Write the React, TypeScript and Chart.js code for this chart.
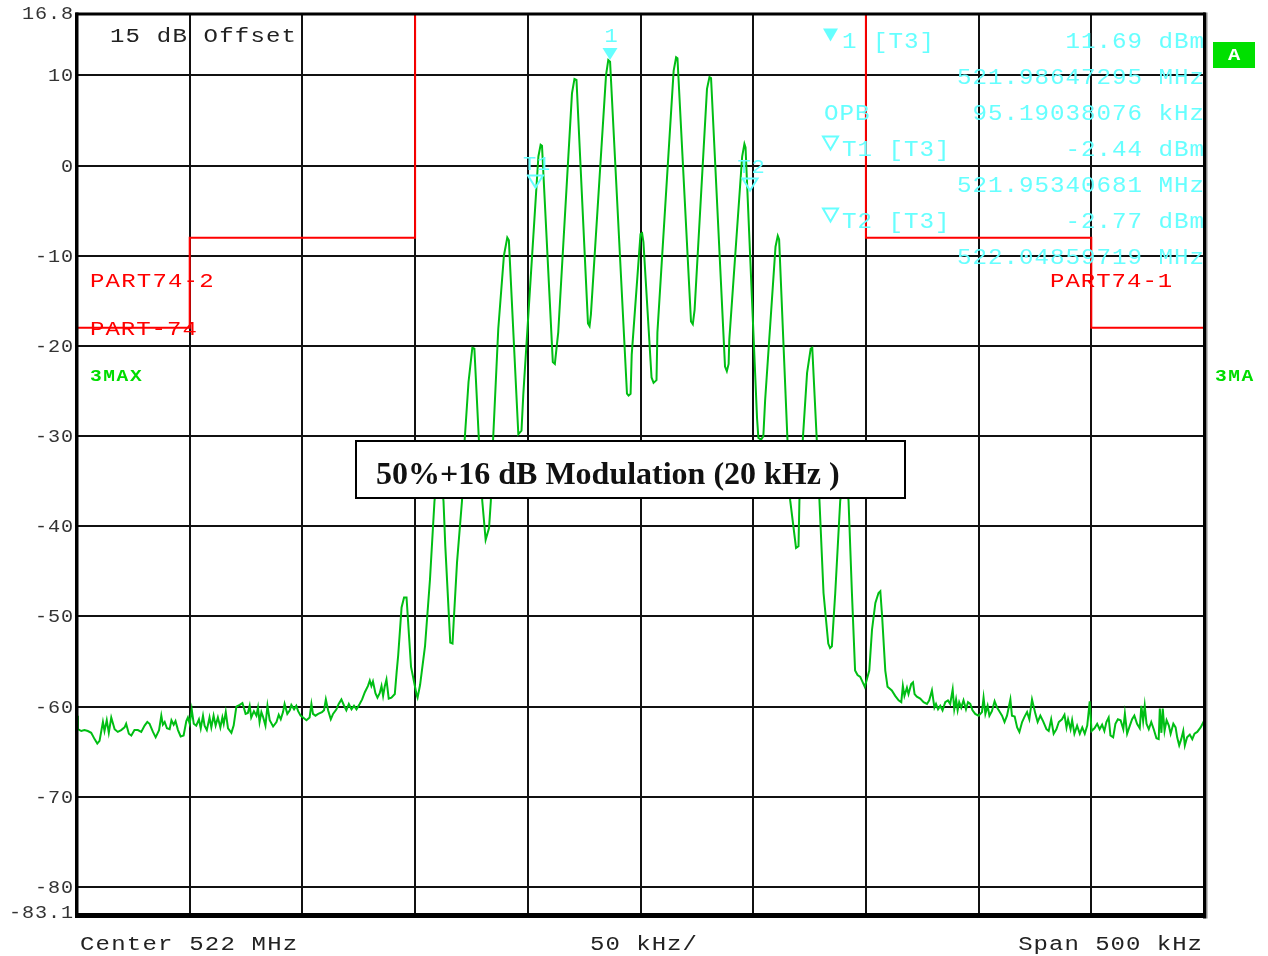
import React, { useEffect, useRef } from 'react';
import { Chart, registerables } from 'chart.js';

Chart.register(...registerables);

// Trace (max hold): frequency offset from 522 MHz in kHz, level in dBm
const traceFreqKHz = [
  -250.0, -249.6, -248.1, -246.7, -245.2, -243.7, -242.2, -241.0, -240.0, -238.5, -237.8, -236.8, -235.9, -234.8, -233.3, -231.9,
  -230.4, -228.9, -228.2, -227.0, -225.9, -224.5, -223.0, -221.5, -220.0, -218.8, -217.8, -216.3, -215.1, -213.6, -212.6, -211.9,
  -211.1, -210.1, -208.9, -208.1, -207.1, -206.3, -205.2, -204.0, -202.7, -201.5, -200.8, -200.0, -199.1, -198.2, -197.1, -195.9,
  -195.1, -194.1, -193.4, -192.4, -191.2, -190.4, -189.4, -188.5, -187.5, -186.4, -185.5, -184.9, -184.0, -183.0, -181.5, -180.5,
  -179.3, -177.8, -176.6, -176.1, -175.2, -174.2, -173.4, -172.7, -171.5, -170.4, -169.7, -169.0, -168.2, -167.5, -166.4, -165.5,
  -164.5, -163.0, -161.5, -160.5, -159.6, -158.6, -157.9, -156.7, -155.6, -154.9, -153.7, -152.7, -151.9, -150.8, -149.7, -148.2,
  -146.8, -146.0, -145.3, -144.2, -143.0, -141.3, -140.4, -139.6, -138.6, -137.4, -136.4, -134.9, -133.9, -132.7, -131.5, -130.5,
  -129.4, -128.2, -127.1, -126.0, -124.6, -123.5, -122.3, -120.9, -120.1, -119.4, -118.7, -117.6, -116.7, -115.7, -114.9, -114.2,
  -113.5, -112.7, -111.7, -110.5, -109.0, -108.2, -107.5, -106.0, -104.9, -103.8, -101.8, -99.3, -98.9, -97.8, -95.6, -93.4,
  -91.4, -89.3, -87.4, -86.6, -84.4, -83.4, -82.9, -81.4, -79.2, -78.0, -76.3, -74.6, -73.7, -71.7, -70.2, -68.7,
  -67.2, -66.4, -65.4, -63.1, -60.6, -59.1, -58.4, -54.2, -52.8, -52.0, -45.3, -44.3, -43.7, -38.9, -38.0, -36.5,
  -30.4, -29.3, -28.4, -23.3, -22.6, -22.0, -15.3, -14.3, -13.5, -6.0, -5.3, -4.4, -3.9, 0.0, 0.7, 1.3,
  4.9, 5.8, 7.1, 7.5, 14.7, 15.8, 16.4, 22.4, 23.2, 24.0, 29.5, 30.6, 31.3, 37.5, 38.3, 39.1,
  39.4, 45.1, 46.1, 46.6, 51.7, 52.3, 53.5, 54.5, 55.3, 59.9, 60.9, 61.5, 65.2, 66.4, 69.0, 70.1,
  70.5, 72.0, 73.9, 75.5, 76.2, 78.2, 79.4, 81.2, 83.3, 84.1, 84.9, 86.4, 88.6, 90.8, 92.3, 93.8,
  95.2, 96.3, 97.5, 98.4, 99.5, 100.4, 101.5, 102.7, 104.2, 105.6, 106.4, 107.2, 108.6, 109.6, 111.5, 113.0,
  114.5, 115.7, 116.4, 117.1, 118.2, 118.9, 120.1, 120.9, 121.6, 122.6, 124.1, 125.6, 127.1, 128.1, 129.3, 130.4,
  131.1, 132.0, 133.0, 134.0, 135.2, 136.4, 137.4, 138.5, 139.2, 140.0, 140.7, 141.4, 142.3, 143.3, 144.4, 145.3,
  146.3, 147.3, 148.5, 150.0, 151.5, 152.2, 153.0, 154.0, 154.8, 155.9, 157.1, 158.2, 159.2, 160.4, 161.5, 162.6,
  164.1, 164.8, 166.0, 167.1, 168.1, 169.3, 170.4, 171.5, 172.5, 173.7, 175.2, 176.2, 177.4, 178.6, 180.1, 181.1,
  182.2, 183.3, 184.5, 185.6, 187.0, 188.1, 189.0, 189.7, 190.8, 191.5, 192.5, 193.7, 194.9, 196.0, 197.1, 198.2,
  199.3, 200.1, 201.4, 202.6, 203.7, 204.8, 205.8, 206.7, 207.7, 208.5, 209.7, 210.7, 211.8, 213.0, 214.2, 214.9,
  215.9, 217.1, 218.1, 219.1, 220.3, 221.5, 222.2, 223.0, 223.7, 224.5, 225.5, 226.6, 227.7, 228.9, 229.9, 230.4,
  231.1, 231.7, 232.5, 233.4, 234.4, 235.2, 236.4, 237.4, 238.1, 239.0, 239.9, 240.8, 241.5, 242.5, 243.7, 244.8,
  245.8, 247.0, 248.5, 250.0,
];
const traceLevelDbm = [
  -61.0, -62.5, -62.7, -62.6, -62.7, -62.9, -63.6, -64.1, -63.8, -61.7, -62.7, -61.5, -62.9, -61.2, -62.5, -62.8,
  -62.6, -62.3, -61.9, -63.0, -63.2, -62.6, -62.6, -62.8, -62.1, -61.7, -61.9, -62.8, -63.4, -62.6, -61.0, -62.0,
  -61.7, -62.4, -62.5, -61.5, -62.0, -61.6, -62.6, -63.3, -63.2, -61.6, -61.2, -61.9, -60.3, -61.9, -62.1, -61.4,
  -62.4, -61.0, -62.1, -62.6, -61.2, -62.3, -61.0, -62.1, -61.2, -62.3, -61.2, -61.9, -60.6, -62.4, -62.9, -62.1,
  -60.0, -59.8, -59.6, -60.0, -60.8, -60.7, -59.9, -61.2, -60.5, -61.0, -60.1, -61.7, -60.6, -61.1, -62.1, -59.9,
  -61.5, -62.2, -61.7, -60.9, -61.4, -60.6, -59.7, -60.8, -60.4, -59.8, -60.3, -59.9, -60.5, -61.0, -61.2, -61.5,
  -61.2, -59.7, -60.8, -61.0, -60.8, -60.6, -60.4, -59.2, -60.4, -61.4, -60.8, -60.3, -59.7, -59.2, -59.9, -60.4,
  -59.7, -60.3, -59.9, -60.3, -59.7, -59.2, -58.4, -57.7, -57.1, -57.7, -57.2, -58.5, -59.0, -58.5, -57.7, -58.8,
  -57.8, -57.0, -59.1, -59.0, -58.6, -56.2, -54.3, -49.0, -47.9, -47.9, -55.6, -58.7, -59.0, -57.6, -53.3, -45.9,
  -37.2, -32.5, -37.2, -42.2, -52.9, -53.0, -50.7, -44.0, -37.2, -30.4, -24.0, -20.2, -20.3, -30.4, -37.2, -41.5,
  -40.2, -37.2, -30.4, -18.1, -10.0, -8.0, -8.3, -29.8, -29.4, -25.4, 1.0, 2.3, 2.2, -21.8, -22.0, -18.5,
  8.0, 9.6, 9.5, -17.5, -17.8, -16.5, 10.0, 11.7, 11.5, -25.3, -25.5, -25.3, -21.0, -7.6, -7.5, -8.5,
  -23.5, -24.1, -23.8, -18.5, 10.5, 12.0, 11.9, -17.3, -17.6, -16.0, 8.5, 9.8, 9.7, -22.3, -22.8, -22.0,
  -19.3, 1.0, 2.4, 2.0, -28.0, -30.2, -30.4, -30.0, -26.0, -9.0, -7.8, -8.2, -30.4, -37.1, -42.4, -42.2,
  -37.2, -30.4, -23.0, -20.3, -20.2, -30.4, -37.2, -47.4, -53.0, -53.5, -53.3, -47.4, -37.2, -32.5, -37.2, -47.4,
  -56.0, -56.5, -56.7, -57.2, -57.8, -57.0, -56.0, -51.5, -48.5, -47.4, -47.2, -50.0, -56.0, -57.8, -58.2, -58.8,
  -59.3, -59.5, -57.7, -58.8, -57.9, -58.6, -57.5, -57.3, -58.6, -58.9, -59.1, -59.5, -59.7, -59.3, -58.2, -60.1,
  -59.7, -60.3, -59.9, -60.4, -59.5, -59.3, -59.7, -58.1, -60.3, -59.2, -60.4, -59.5, -60.1, -59.3, -60.3, -59.5,
  -59.7, -60.4, -60.8, -61.0, -60.6, -59.0, -60.8, -59.9, -61.0, -60.5, -59.4, -60.1, -60.5, -61.0, -61.7, -61.0,
  -59.2, -61.0, -61.1, -62.3, -62.8, -61.7, -61.1, -60.6, -61.4, -59.2, -60.8, -61.7, -61.0, -61.6, -62.5, -62.7,
  -61.4, -63.0, -62.5, -61.7, -61.4, -60.9, -62.3, -61.4, -62.5, -61.5, -63.0, -62.1, -63.0, -62.3, -63.0, -62.1,
  -59.4, -62.7, -62.4, -61.9, -62.5, -62.0, -62.7, -61.7, -61.2, -63.2, -63.4, -61.9, -61.4, -61.5, -62.5, -60.8,
  -63.0, -62.1, -61.4, -61.0, -61.9, -62.4, -59.9, -61.6, -59.9, -61.9, -62.5, -61.7, -62.5, -63.5, -63.6, -60.2,
  -62.9, -60.2, -62.7, -61.5, -62.1, -63.0, -61.9, -62.3, -63.4, -64.3, -63.6, -62.7, -64.3, -63.4, -63.1, -63.6,
  -63.0, -62.8, -62.3, -61.6,
];

// Limit lines (PART74-2 / PART-74 on the left, PART74-1 on the right)
const limitLeftFreqKHz = [-250, -200, -200, -100, -100];
const limitLeftLevelDbm = [-18, -18, -8, -8, 16.8];
const limitRightFreqKHz = [100, 100, 200, 200, 250];
const limitRightLevelDbm = [16.8, -8, -8, -18, -18];

// Axes
const yTickValues = [16.8, 10, 0, -10, -20, -30, -40, -50, -60, -70, -80, -83.1];
const xTickValues = [-250, -200, -150, -100, -50, 0, 50, 100, 150, 200, 250];
const yMin = -83.1;
const yMax = 16.8;

// Markers
const markerNames = ['1', 'T1', 'T2'];
const markerFreqKHz = [-13.527, -46.593, 48.597];
const markerLevelDbm = [11.69, -2.44, -2.77];
const markerFilled = [true, false, false];

// Marker readout block
const readoutLeft = ['1 [T3]', '', 'OPB', 'T1 [T3]', '', 'T2 [T3]', ''];
const readoutRight = ['11.69 dBm', '521.98647295 MHz', '95.19038076 kHz', '-2.44 dBm', '521.95340681 MHz', '-2.77 dBm', '522.04859719 MHz'];
const readoutGlyph = ['filled', '', '', 'open', '', 'open', ''];

const MONO = '"Liberation Mono", "DejaVu Sans Mono", monospace';
const CYAN = '#66ffff';

// draws monospace text at a given character pitch (px per char), stretched horizontally by sx
function drawText(ctx: CanvasRenderingContext2D, s: string, x: number, y: number, font: string, color: string, align: CanvasTextAlign = 'left', pitch = 0, sx = 1) {
  ctx.save();
  ctx.font = font;
  ctx.fillStyle = color;
  ctx.textAlign = align;
  ctx.textBaseline = 'alphabetic';
  let spacing = 0;
  if (pitch > 0) {
    const adv = ctx.measureText('M').width;
    spacing = pitch / sx - adv;
  }
  (ctx as any).letterSpacing = spacing + 'px';
  let xx = 0;
  if (align === 'right') xx += spacing;
  if (align === 'center') xx += spacing / 2;
  ctx.translate(x, y);
  ctx.scale(sx, 1);
  ctx.fillText(s, xx, 0);
  ctx.restore();
}

function triangle(ctx: CanvasRenderingContext2D, cx: number, tipY: number, w: number, h: number, filled: boolean) {
  ctx.save();
  ctx.beginPath();
  ctx.moveTo(cx - w / 2, tipY - h);
  ctx.lineTo(cx + w / 2, tipY - h);
  ctx.lineTo(cx, tipY);
  ctx.closePath();
  if (filled) {
    ctx.fillStyle = CYAN;
    ctx.fill();
  } else {
    ctx.strokeStyle = CYAN;
    ctx.lineWidth = 2;
    ctx.stroke();
  }
  ctx.restore();
}

const overlayPlugin = {
  id: 'overlay',
  beforeDraw(chart: any) {
    const ctx = chart.ctx as CanvasRenderingContext2D;
    ctx.save();
    ctx.fillStyle = '#ffffff';
    ctx.fillRect(0, 0, chart.width, chart.height);
    ctx.restore();
  },
  afterDatasetsDraw(chart: any) {
    const ctx = chart.ctx as CanvasRenderingContext2D;
    const ca = chart.chartArea;
    const xs = chart.scales.x;
    const ys = chart.scales.y;

    // frame
    ctx.save();
    ctx.fillStyle = '#000';
    ctx.fillRect(ca.left - 1.5, ca.top - 1.5, ca.right - ca.left + 3, 3);
    ctx.fillRect(ca.left - 2, ca.top - 1.5, 3.5, ca.bottom - ca.top + 3);
    ctx.fillRect(ca.left - 2, ca.bottom - 2, ca.right - ca.left + 4, 5);
    ctx.fillRect(ca.right - 1, ca.top - 1.5, 3, ca.bottom - ca.top + 5);
    ctx.fillStyle = '#888';
    ctx.fillRect(ca.right + 2, ca.top - 1.5, 1.5, ca.bottom - ca.top + 5);
    ctx.restore();

    // y tick labels
    for (const t of ys.ticks) {
      const v = t.value;
      const label = Number.isInteger(v) ? String(v) : v.toFixed(1);
      let py = ys.getPixelForValue(v) + 6;
      if (v === yMin) py -= 3;
      if (v === yMax) py -= 1;
      drawText(ctx, label, ca.left - 4, py, '18px ' + MONO, '#333', 'right', 13, 1.12);
    }

    const f20 = '20px ' + MONO;
    // bottom annotation
    drawText(ctx, 'Center 522 MHz', 80, 950, f20, '#222', 'left', 15.6, 1.2);
    drawText(ctx, '50 kHz/', (ca.left + ca.right) / 2 + 3, 950, f20, '#222', 'center', 15.4, 1.2);
    drawText(ctx, 'Span 500 kHz', ca.right - 2, 950, f20, '#222', 'right', 15.4, 1.2);

    // top-left
    drawText(ctx, '15 dB Offset', 110, 42, f20, '#222', 'left', 15.6, 1.2);

    // limit labels
    drawText(ctx, 'PART74-2', 90, 287, f20, '#ff0000', 'left', 15.6, 1.2);
    drawText(ctx, 'PART-74', 90, 335, f20, '#ff0000', 'left', 15.4, 1.2);
    drawText(ctx, 'PART74-1', 1050, 287, f20, '#ff0000', 'left', 15.4, 1.2);

    // trace labels
    drawText(ctx, '3MAX', 90, 381, 'bold 17px ' + MONO, '#00dd00', 'left', 13.3, 1.15);
    drawText(ctx, '3MA', 1215, 381, 'bold 17px ' + MONO, '#00dd00', 'left', 13.3, 1.15);

    // A box
    ctx.save();
    ctx.fillStyle = '#00e000';
    ctx.fillRect(1213, 42, 42, 26);
    ctx.restore();
    drawText(ctx, 'A', 1234, 60, 'bold 17px ' + MONO, '#ffffff', 'center', 0, 1.2);

    // Title box
    ctx.save();
    ctx.fillStyle = '#ffffff';
    ctx.fillRect(356, 441, 549, 57);
    ctx.strokeStyle = '#000';
    ctx.lineWidth = 2;
    ctx.strokeRect(356, 441, 549, 57);
    ctx.restore();
    drawText(ctx, '50%+16 dB Modulation (20 kHz )', 376, 484, 'bold 32px "Liberation Serif", "DejaVu Serif", serif', '#111', 'left', 0, 1);

    // Markers on the trace
    for (let i = 0; i < markerNames.length; i++) {
      const px = xs.getPixelForValue(markerFreqKHz[i]);
      const py = ys.getPixelForValue(markerLevelDbm[i]);
      triangle(ctx, px, py, 15, 12, markerFilled[i]);
      drawText(ctx, markerNames[i], px + 1, py - 18, f20, CYAN, 'center', 14, 1.1);
    }

    // Marker readout
    for (let i = 0; i < readoutRight.length; i++) {
      const base = 48 + i * 36;
      if (readoutGlyph[i]) triangle(ctx, 830.5, base - 6.5, 15, 13, readoutGlyph[i] === 'filled');
      if (readoutLeft[i]) {
        const lx = readoutLeft[i] === 'OPB' ? 824 : 842;
        drawText(ctx, readoutLeft[i], lx, base, '22px ' + MONO, CYAN, 'left', 15.5, 1.1);
      }
      drawText(ctx, readoutRight[i], 1204, base, '22px ' + MONO, CYAN, 'right', 15.5, 1.1);
    }
  },
};

export default function App() {
  const canvasRef = useRef<HTMLCanvasElement | null>(null);

  useEffect(() => {
    document.body.style.margin = '0';
    const canvas = canvasRef.current;
    if (!canvas) return;
    const traceData = traceFreqKHz.map((f, i) => ({ x: f, y: traceLevelDbm[i] }));
    const limLeft = limitLeftFreqKHz.map((f, i) => ({ x: f, y: limitLeftLevelDbm[i] }));
    const limRight = limitRightFreqKHz.map((f, i) => ({ x: f, y: limitRightLevelDbm[i] }));

    const chart = new Chart(canvas, {
      type: 'line',
      data: {
        datasets: [
          { data: limLeft, borderColor: '#ff0000', borderWidth: 2, pointRadius: 0, tension: 0, fill: false },
          { data: limRight, borderColor: '#ff0000', borderWidth: 2, pointRadius: 0, tension: 0, fill: false },
          { data: traceData, borderColor: 'rgb(0,190,20)', borderWidth: 2, pointRadius: 0, tension: 0, fill: false },
        ],
      },
      options: {
        animation: false,
        responsive: false,
        devicePixelRatio: 1,
        parsing: false as any,
        normalized: true,
        layout: { padding: { top: 14, right: 64, left: 0, bottom: 0 } },
        plugins: { legend: { display: false }, tooltip: { enabled: false } },
        scales: {
          x: {
            type: 'linear',
            min: -250,
            max: 250,
            afterBuildTicks: (s: any) => { s.ticks = xTickValues.map((v) => ({ value: v })); },
            afterFit: (s: any) => { s.height = 41; },
            ticks: { display: false },
            grid: { color: '#111', lineWidth: 2, drawTicks: false },
            border: { display: false },
          },
          y: {
            type: 'linear',
            min: yMin,
            max: yMax,
            afterBuildTicks: (s: any) => { s.ticks = yTickValues.map((v) => ({ value: v })); },
            afterFit: (s: any) => { s.width = 77; },
            ticks: { display: false },
            grid: { color: '#111', lineWidth: 2, drawTicks: false },
            border: { display: false },
          },
        },
      },
      plugins: [overlayPlugin],
    });
    return () => chart.destroy();
  }, []);

  return (
    <div style={{ position: 'fixed', left: 0, top: 0, width: 1268, height: 956, background: '#fff' }}>
      <canvas ref={canvasRef} width={1268} height={956} style={{ display: 'block' }} />
    </div>
  );
}
